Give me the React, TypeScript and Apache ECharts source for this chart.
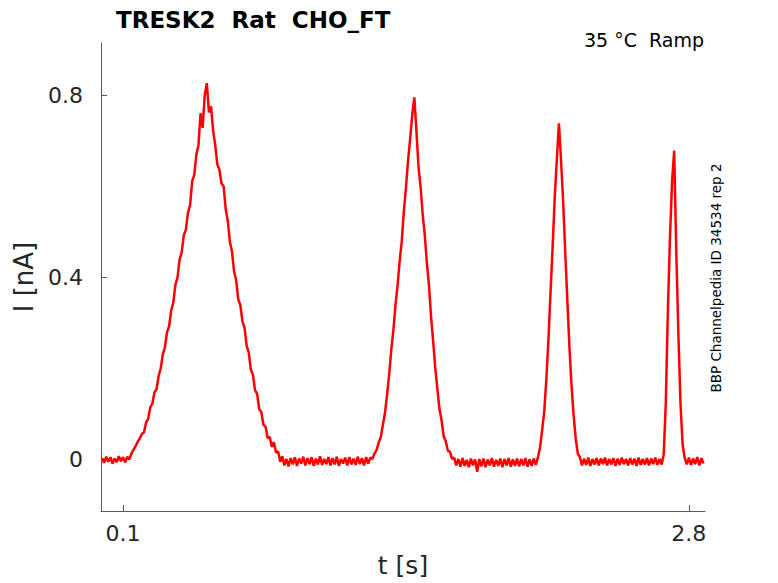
import React, { useEffect, useRef } from "react";
import * as echarts from "echarts";

// Sampling interval of the recorded trace (s)
const SAMPLE_DT = 0.01;

const current: number[] = [
  // 0.00 - 0.09
  0.004, -0.006, 0.007, -0.004, 0.006, -0.008, 0.003, -0.005, 0.008, -0.003,
  // 0.10 - 0.19
  0.006, -0.005, 0.007, 0.001, 0.014, 0.022, 0.030, 0.040, 0.047, 0.057,
  // 0.20 - 0.29
  0.060, 0.082, 0.090, 0.115, 0.123, 0.148, 0.155, 0.184, 0.201, 0.232,
  // 0.30 - 0.39
  0.247, 0.280, 0.293, 0.328, 0.345, 0.384, 0.400, 0.439, 0.455, 0.492,
  // 0.40 - 0.49
  0.505, 0.542, 0.558, 0.611, 0.625, 0.670, 0.690, 0.760, 0.728, 0.800,
  // 0.50 - 0.59
  0.826, 0.762, 0.775, 0.722, 0.690, 0.648, 0.636, 0.606, 0.600, 0.550,
  // 0.60 - 0.69
  0.524, 0.478, 0.457, 0.413, 0.394, 0.352, 0.339, 0.303, 0.290, 0.250,
  // 0.70 - 0.79
  0.235, 0.198, 0.186, 0.153, 0.145, 0.111, 0.105, 0.077, 0.073, 0.048,
  // 0.80 - 0.89
  0.050, 0.029, 0.039, 0.016, 0.019, -0.004, 0.008, -0.012, 0.002, -0.014,
  // 0.90 - 0.99
  0.004, -0.010, 0.006, -0.013, 0.003, -0.008, 0.007, -0.012, 0.004, -0.009,
  // 1.00 - 1.09
  0.006, -0.013, 0.003, -0.010, 0.008, -0.011, 0.002, -0.009, 0.006, -0.012,
  // 1.10 - 1.19
  0.004, -0.010, 0.007, -0.013, 0.002, -0.008, 0.005, -0.012, 0.006, -0.010,
  // 1.20 - 1.29
  0.003, -0.011, 0.007, -0.009, 0.004, -0.012, 0.006, -0.008, 0.005, 0.002,
  // 1.30 - 1.39
  0.014, 0.022, 0.038, 0.050, 0.077, 0.103, 0.143, 0.187, 0.241, 0.284,
  // 1.40 - 1.49
  0.339, 0.382, 0.436, 0.479, 0.545, 0.596, 0.656, 0.703, 0.756, 0.795,
  // 1.50 - 1.59
  0.722, 0.642, 0.598, 0.538, 0.493, 0.431, 0.382, 0.313, 0.260, 0.201,
  // 1.60 - 1.69
  0.156, 0.111, 0.087, 0.052, 0.041, 0.020, 0.018, 0.002, 0.005, -0.012,
  // 1.70 - 1.79
  0.002, -0.015, 0.004, -0.013, 0.000, -0.016, 0.003, -0.012, 0.001, -0.026,
  // 1.80 - 1.89
  0.002, -0.014, 0.003, -0.016, 0.001, -0.012, 0.004, -0.015, 0.000, -0.013,
  // 1.90 - 1.99
  0.003, -0.016, 0.002, -0.012, 0.004, -0.015, 0.001, -0.013, 0.003, -0.014,
  // 2.00 - 2.09
  0.002, -0.012, 0.004, -0.015, 0.001, -0.013, 0.003, -0.011, 0.006, 0.028,
  // 2.10 - 2.19
  0.066, 0.106, 0.177, 0.264, 0.368, 0.467, 0.576, 0.658, 0.738, 0.657,
  // 2.20 - 2.29
  0.568, 0.456, 0.352, 0.248, 0.164, 0.098, 0.047, 0.014, 0.006, -0.012,
  // 2.30 - 2.39
  0.003, -0.011, 0.005, -0.013, 0.002, -0.010, 0.004, -0.012, 0.003, -0.009,
  // 2.40 - 2.49
  0.005, -0.012, 0.002, -0.010, 0.004, -0.013, 0.003, -0.011, 0.005, -0.009,
  // 2.50 - 2.59
  0.002, -0.012, 0.004, -0.010, 0.003, -0.013, 0.005, -0.011, 0.002, -0.010,
  // 2.60 - 2.69
  0.004, -0.012, 0.003, -0.009, 0.005, -0.011, 0.002, -0.010, 0.012, 0.125,
  // 2.70 - 2.79
  0.330, 0.489, 0.612, 0.678, 0.455, 0.275, 0.125, 0.035, 0.004, -0.010,
  // 2.80 - 2.87
  0.005, -0.011, 0.003, -0.009, 0.006, -0.012, 0.004, -0.008,
];

const xTickValues = [0.1, 2.8];
const yTickValues = [0, 0.4, 0.8];

const titleText = "TRESK2  Rat  CHO_FT";
const conditionText = "35 °C  Ramp";
const sourceText = "BBP Channelpedia ID 34534 rep 2";
const xAxisName = "t [s]";
const yAxisName = "I [nA]";

const FONT = "'DejaVu Sans', 'Noto Sans', sans-serif";

export default function App() {
  const ref = useRef<HTMLDivElement>(null);

  useEffect(() => {
    if (!ref.current) return;
    const chart = echarts.init(ref.current, null, { renderer: "svg" });

    const seriesData = current.map((v, i) => [
      Number((i * SAMPLE_DT).toFixed(3)),
      v,
    ]);

    const axisLineStyle = { color: "#5a5a5a", width: 1 };

    chart.setOption({
      animation: false,
      backgroundColor: "#ffffff",
      title: {
        text: titleText,
        left: 111,
        top: 3,
        textStyle: {
          fontFamily: FONT,
          fontWeight: "bold",
          fontSize: 23,
          color: "#000000",
        },
      },
      grid: { left: 101, right: 73, top: 43, bottom: 72 },
      xAxis: {
        type: "value",
        min: -0.005,
        max: 2.877,
        name: xAxisName,
        nameLocation: "middle",
        nameGap: 42,
        nameTextStyle: { fontFamily: FONT, fontSize: 25, color: "#262626" },
        axisLine: { show: true, onZero: false, lineStyle: axisLineStyle },
        axisTick: {
          show: true,
          inside: true,
          length: 6,
          customValues: xTickValues,
          lineStyle: axisLineStyle,
        },
        axisLabel: {
          customValues: xTickValues,
          fontFamily: FONT,
          fontSize: 22,
          color: "#262626",
          margin: 11,
        },
        splitLine: { show: false },
      },
      yAxis: {
        type: "value",
        min: -0.112,
        max: 0.914,
        name: yAxisName,
        nameLocation: "middle",
        nameGap: 62,
        nameTextStyle: { fontFamily: FONT, fontSize: 26, color: "#262626" },
        axisLine: { show: true, onZero: false, lineStyle: axisLineStyle },
        axisTick: {
          show: true,
          inside: true,
          length: 6,
          customValues: yTickValues,
          lineStyle: axisLineStyle,
        },
        axisLabel: {
          customValues: yTickValues,
          fontFamily: FONT,
          fontSize: 22,
          color: "#262626",
          margin: 18,
          formatter: (v: number) => String(v),
        },
        splitLine: { show: false },
      },
      graphic: [
        {
          type: "text",
          right: 74,
          top: 30,
          style: {
            text: conditionText,
            fontFamily: FONT,
            fontSize: 19,
            fill: "#000000",
          },
        },
        {
          type: "text",
          x: 716,
          y: 278,
          rotation: Math.PI / 2,
          style: {
            text: sourceText,
            fontFamily: FONT,
            fontSize: 13.5,
            fill: "#000000",
            align: "center",
            verticalAlign: "middle",
          },
        },
      ],
      series: [
        {
          type: "line",
          data: seriesData,
          showSymbol: false,
          symbol: "none",
          lineStyle: { color: "#ff0000", width: 2.5 },
          itemStyle: { color: "#ff0000" },
          clip: true,
        },
      ],
    });

    return () => chart.dispose();
  }, []);

  return (
    <div
      ref={ref}
      style={{ position: "fixed", left: 0, top: 0, width: 778, height: 583 }}
    />
  );
}
